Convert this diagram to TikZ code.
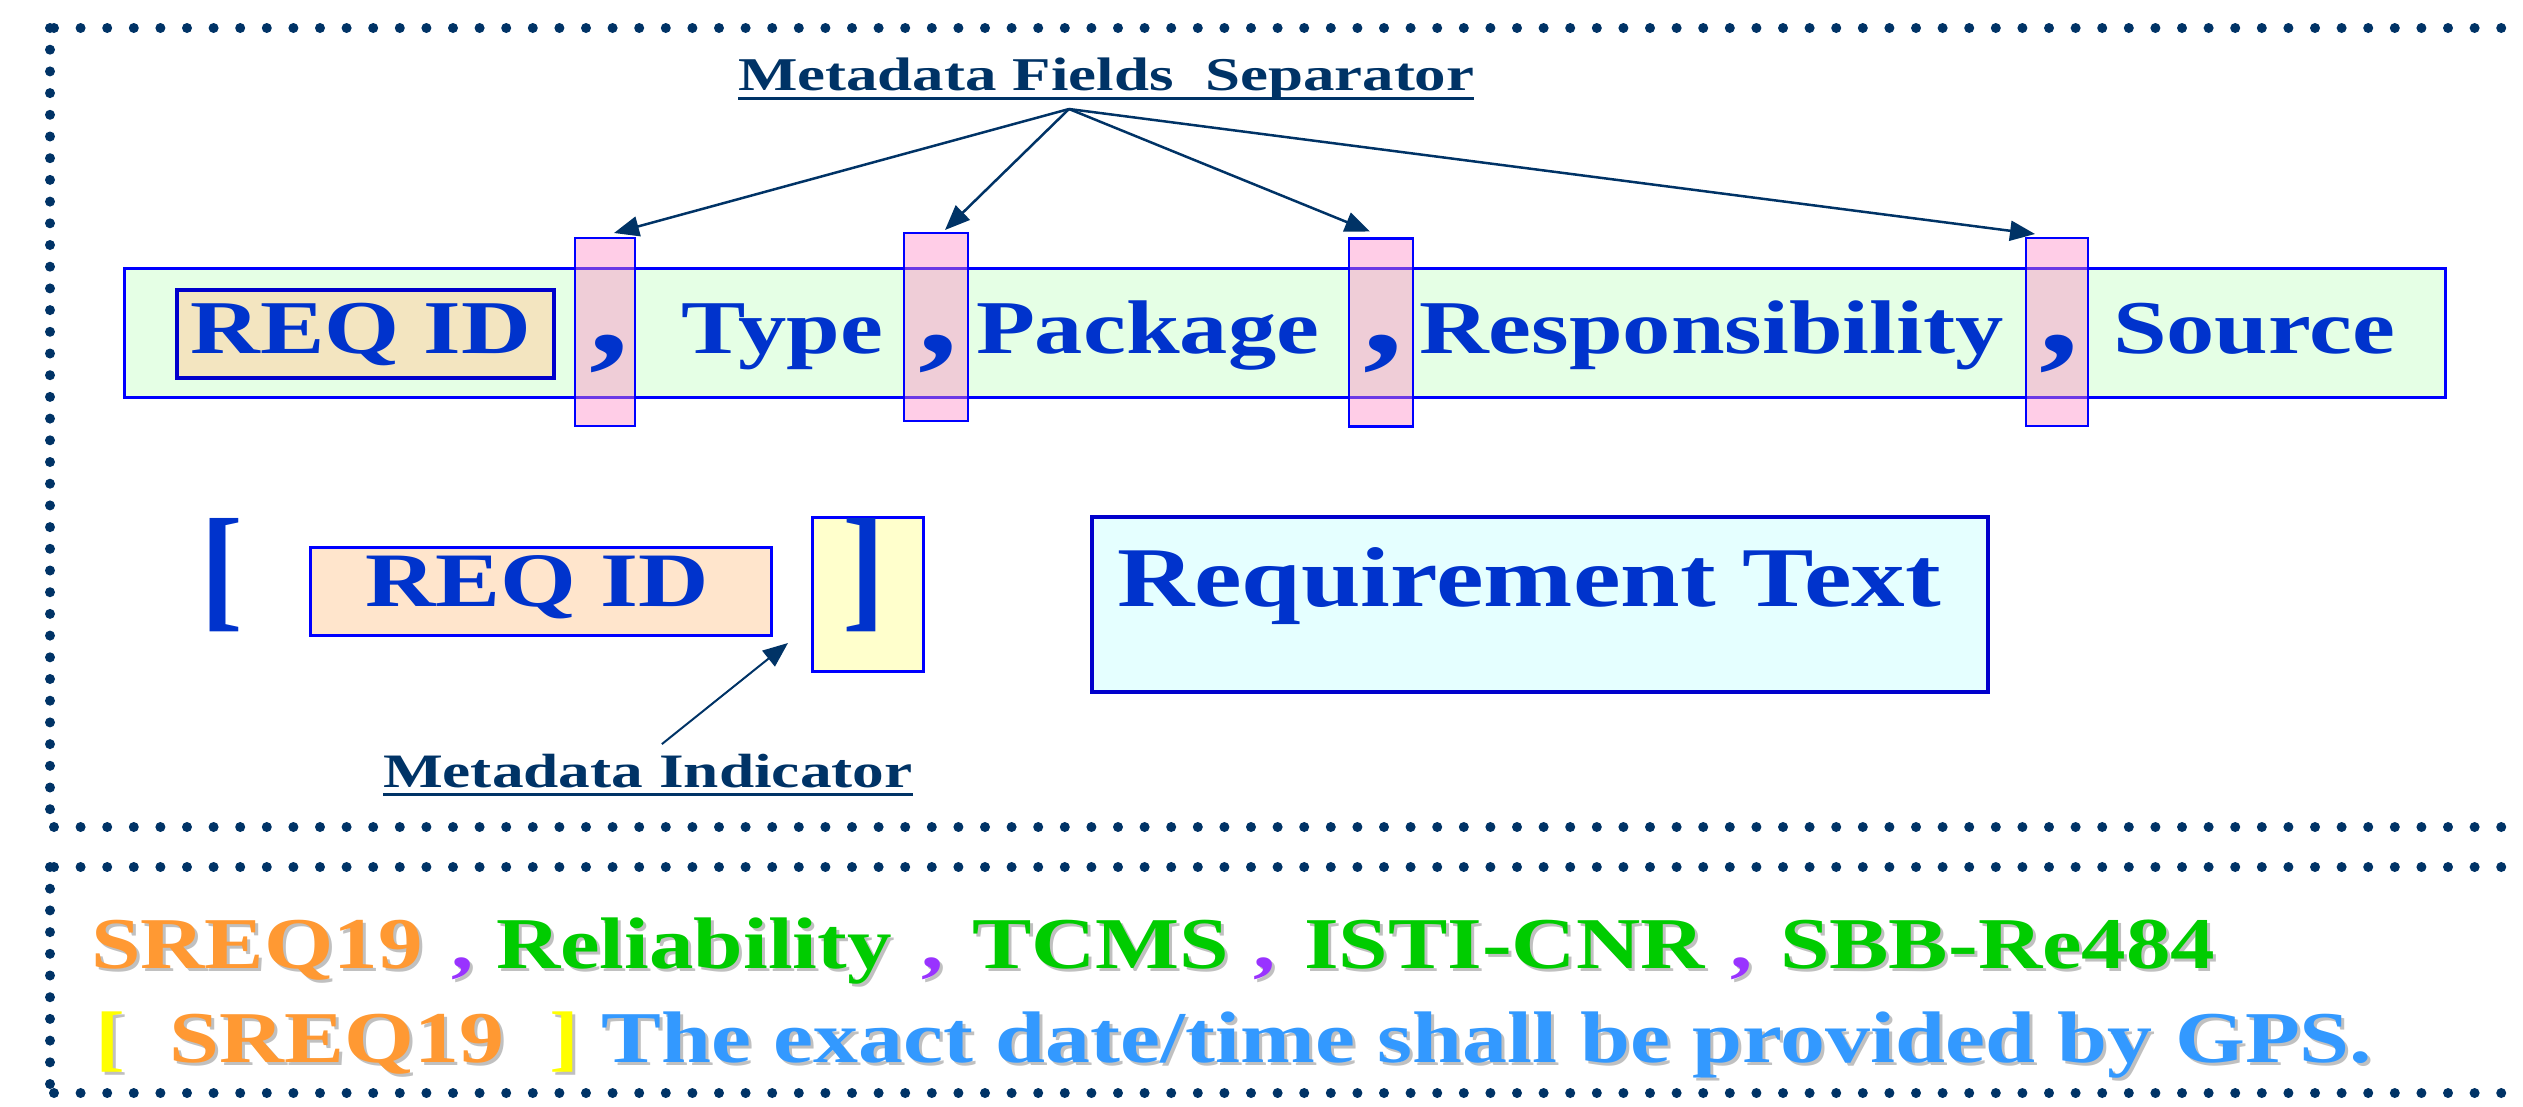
\documentclass[tikz,border=0pt]{standalone}
\usepackage{fontspec}
\usepackage{graphicx}
\newfontfamily\tnr{Liberation Serif}
\usetikzlibrary{arrows.meta}
\definecolor{navy}{HTML}{003366}
\definecolor{txtblue}{HTML}{0033CC}
\definecolor{boxblue}{HTML}{0000FF}
\definecolor{dkblue}{HTML}{0000CC}
\definecolor{greenfill}{HTML}{E5FFE5}
\definecolor{wheatfill}{HTML}{F3E5C0}
\definecolor{peachfill}{HTML}{FFE5CC}
\definecolor{yelfill}{HTML}{FFFFCC}
\definecolor{cyanfill}{HTML}{E5FFFF}
\definecolor{pinkc}{RGB}{255,136,197}
\definecolor{corange}{HTML}{FF9933}
\definecolor{cgreen}{HTML}{00CC00}
\definecolor{cpurple}{HTML}{9933FF}
\definecolor{cyellow}{HTML}{FFFF00}
\definecolor{clblue}{HTML}{3399FF}
\definecolor{shadowgray}{HTML}{C0C0C0}
\newcommand\stx[3]{\scalebox{#1}[1]{\tnr\bfseries\fontsize{#2pt}{#2pt}\selectfont #3}}
\newcommand\lineB{\textcolor{cyellow}{[}\ \ \textcolor{corange}{SREQ19}\ \ \textcolor{cyellow}{]} \textcolor{clblue}{The exact date/time shall be provided by GPS.}}
\newcommand\allgray[1]{{\colorlet{corange}{shadowgray}\colorlet{cgreen}{shadowgray}\colorlet{cpurple}{shadowgray}\colorlet{cyellow}{shadowgray}\colorlet{clblue}{shadowgray}#1}}
% name, x, y, colour, text : a shadowed piece of the example line
\newcommand\shpiece[5]{%
  \node[txt, text=shadowgray] (#1s) at (#2+3,#3+3) {\stx{1.22}{73}{#5}};
  \node[txt, text=#4] (#1) at (#2,#3) {\stx{1.22}{73}{#5}};}
\begin{document}
\begin{tikzpicture}[x=1pt,y=-1pt,
  hdots/.style={navy, line width=10pt, line cap=round, dash pattern=on 0pt off 26.6pt},
  vdots/.style={navy, line width=10pt, line cap=round, dash pattern=on 0pt off 21.7pt},
  txt/.style={inner sep=0pt, outer sep=0pt, anchor=base west},
  box/.style={draw=boxblue, line width=3pt, inner sep=0pt, outer sep=0pt},
  sepbox/.style={draw=boxblue, line width=2.5pt, fill=pinkc, fill opacity=0.42, draw opacity=1, inner sep=0pt, outer sep=0pt, minimum width=62pt, minimum height=188pt},
  arr/.style={navy, line width=2.5pt, -{Triangle[length=25pt,width=20pt]}}]
\useasboundingbox (0,0) rectangle (2523,1106);
% frames
\draw[hdots] (54,28) -- (2523,28);
\draw[vdots] (50,28) -- (50,827);
\draw[hdots] (54,827) -- (2523,827);
\draw[hdots] (54,867) -- (2523,867);
\draw[vdots] (50,867) -- (50,1093);
\draw[hdots] (54,1093) -- (2523,1093);
% title
\node[txt, text=navy] (title) at (738,90) {\stx{1.34}{47}{Metadata Fields\ \ Separator}};
\draw[navy, line width=3pt] ([yshift=-8pt]title.base west) -- ([yshift=-8pt]title.base east);
\coordinate (apex) at (1069,109);
% main metadata row
\node[box, fill=greenfill, minimum width=2321pt, minimum height=129pt] (row) at (1284.5,332.5) {};
\node[draw=dkblue, line width=4pt, fill=wheatfill, inner sep=0pt, minimum width=377pt, minimum height=88pt] (reqa) at (365.5,334) {};
\node[txt, text=txtblue] (reqat) at (190.5,353) {\stx{1.27}{76}{REQ ID}};
\node[txt, text=txtblue] (type) at (681,353) {\stx{1.27}{76}{Type}};
\node[txt, text=txtblue] (pack) at (976,353) {\stx{1.27}{76}{Package}};
\node[txt, text=txtblue] (resp) at (1419,353) {\stx{1.27}{76}{Responsibility}};
\node[txt, text=txtblue] (srce) at (2113,353) {\stx{1.27}{76}{Source}};
\node[sepbox, minimum width=60pt] (sep1) at (605,332) {};
\node[sepbox, minimum width=64pt] (sep2) at (936,327) {};
\node[sepbox, minimum width=64pt] (sep3) at (1381,332.5) {};
\node[sepbox, minimum width=62pt] (sep4) at (2057,332) {};
\node[inner sep=0pt, anchor=base, text=txtblue] (c1) at (609,353) {\stx{1.27}{125}{,}};
\node[inner sep=0pt, anchor=base, text=txtblue] (c2) at (938,353) {\stx{1.27}{125}{,}};
\node[inner sep=0pt, anchor=base, text=txtblue] (c3) at (1383,353) {\stx{1.27}{125}{,}};
\node[inner sep=0pt, anchor=base, text=txtblue] (c4) at (2059,353) {\stx{1.27}{125}{,}};
\draw[arr] (apex) -- ([xshift=9pt,yshift=5pt]sep1.north);
\draw[arr] (apex) -- ([xshift=9pt,yshift=3pt]sep2.north);
\draw[arr] (apex) -- ([xshift=-11pt,yshift=7pt]sep3.north);
\draw[arr] (apex) -- ([xshift=-22pt,yshift=4pt]sep4.north);
% second row
\node[txt, text=txtblue] (lbr) at (200,613) {\stx{0.94}{137}{[}};
\node[box, fill=peachfill, minimum width=461pt, minimum height=88pt] (reqb) at (540.5,591) {};
\node[txt, text=txtblue] (reqbt) at (365,606) {\stx{1.266}{77}{REQ ID}};
\node[box, fill=yelfill, minimum width=111pt, minimum height=154pt] (ybox) at (867.5,594) {};
\node[txt, text=txtblue] (rbr) at (842,613) {\stx{0.94}{137}{]}};
\node[draw=dkblue, line width=3.5pt, fill=cyanfill, inner sep=0pt, minimum width=896pt, minimum height=175pt] (rtbox) at (1540,604.5) {};
\node[txt, text=txtblue] (rtext) at (1117,606) {\stx{1.26}{85}{Requirement Text}};
\node[txt, text=navy] (ind) at (383,787) {\stx{1.32}{48}{Metadata Indicator}};
\draw[navy, line width=3pt] ([yshift=-7pt]ind.base west) -- ([yshift=-7pt]ind.base east);
\coordinate (indtip) at (788,643);
\draw[arr, line width=2pt] ([xshift=14pt,yshift=9.6pt]ind.north) -- (indtip);
% example lines
\shpiece{e1}{91}{968}{corange}{SREQ19}
\shpiece{e2}{451}{968}{cpurple}{,}
\shpiece{e3}{496}{968}{cgreen}{Reliability}
\shpiece{e4}{921}{968}{cpurple}{,}
\shpiece{e5}{972}{968}{cgreen}{TCMS}
\shpiece{e6}{1253}{968}{cpurple}{,}
\shpiece{e7}{1304}{968}{cgreen}{ISTI-CNR}
\shpiece{e8}{1730}{968}{cpurple}{,}
\shpiece{e9}{1780}{968}{cgreen}{SBB-Re484}
\node[txt] (l2s) at (98,1065) {\allgray{\stx{1.231}{73}{\lineB}}};
\node[txt] (l2) at (95,1062) {\stx{1.231}{73}{\lineB}};
\end{tikzpicture}
\end{document}
